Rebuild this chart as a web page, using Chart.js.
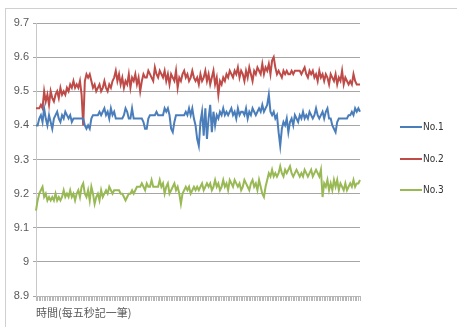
<!DOCTYPE html>
<html>
<head>
<meta charset="utf-8">
<script src="https://cdn.jsdelivr.net/npm/chart.js@4.4.1/dist/chart.umd.min.js"></script>
<style>
  body { margin: 0; background: #fff; }
  #wrap { position: relative; width: 457px; height: 327px; overflow: hidden; }
  #frame { position: absolute; left: 5px; top: 8px; width: 470px; height: 340px;
           border-left: 1px solid #d0d0d0; border-top: 1px solid #d0d0d0; }
  canvas { position: absolute; left: 0; top: 0; }
  .leg { position: absolute; left: 400px; font: 10px "Liberation Sans Narrow", "DejaVu Sans Condensed", "Liberation Sans", sans-serif;
         color: #333; white-space: nowrap; }
  .leg span { display: inline-block; width: 22px; height: 2px; vertical-align: middle; margin-right: 1px; }
</style>
</head>
<body>
<div id="wrap">
  <div id="frame"></div>
  <canvas id="myChart" width="457" height="327"></canvas>
  <div id="legend"></div>
</div>
<script>
// DATA
const seriesNames = ["No.1", "No.2", "No.3"];
const seriesColors = ["#4a7ebb", "#be4b48", "#98b954"];
const yTicks = [8.9, 9.0, 9.1, 9.2, 9.3, 9.4, 9.5, 9.6, 9.7];
const xTitle = "時間(每五秒記一筆)";

const no1 = [
  9.40,9.40,9.42,9.43,9.41,9.45,9.42,9.40,9.43,9.41,9.39,9.42,9.43,9.44,9.42,9.41,9.43,9.42,9.44,9.43,
  9.42,9.43,9.41,9.42,9.42,9.42,9.42,9.42,9.42,9.42,9.40,9.39,9.40,9.39,9.42,9.43,9.43,9.43,9.43,9.44,
  9.43,9.44,9.45,9.43,9.44,9.42,9.45,9.43,9.44,9.42,9.42,9.42,9.42,9.42,9.43,9.45,9.44,9.42,9.42,9.45,
  9.42,9.42,9.42,9.42,9.42,9.42,9.41,9.39,9.39,9.42,9.43,9.43,9.43,9.43,9.44,9.43,9.43,9.43,9.43,9.45,
  9.44,9.45,9.43,9.39,9.38,9.41,9.43,9.43,9.43,9.43,9.43,9.43,9.44,9.43,9.45,9.43,9.45,9.42,9.40,9.36,
  9.34,9.41,9.44,9.37,9.45,9.36,9.42,9.46,9.38,9.44,9.40,9.43,9.42,9.44,9.43,9.45,9.43,9.44,9.43,9.44,
  9.45,9.43,9.44,9.42,9.45,9.43,9.44,9.44,9.43,9.45,9.42,9.44,9.43,9.45,9.44,9.43,9.44,9.45,9.44,9.46,
  9.44,9.45,9.46,9.49,9.44,9.43,9.44,9.42,9.43,9.38,9.34,9.39,9.41,9.40,9.42,9.38,9.41,9.42,9.40,9.43,
  9.42,9.41,9.43,9.42,9.44,9.42,9.43,9.42,9.44,9.43,9.42,9.43,9.45,9.43,9.42,9.43,9.44,9.42,9.44,9.45,
  9.42,9.42,9.40,9.39,9.38,9.41,9.42,9.42,9.42,9.42,9.42,9.42,9.43,9.43,9.44,9.43,9.45,9.44,9.45,9.44
];
const no2 = [
  9.45,9.45,9.45,9.46,9.45,9.50,9.47,9.49,9.46,9.50,9.48,9.47,9.49,9.50,9.48,9.51,9.49,9.50,9.49,9.51,
  9.50,9.52,9.51,9.53,9.51,9.52,9.51,9.53,9.49,9.40,9.53,9.55,9.54,9.55,9.53,9.51,9.52,9.50,9.51,9.52,
  9.50,9.51,9.53,9.51,9.50,9.52,9.51,9.53,9.54,9.56,9.53,9.55,9.52,9.54,9.51,9.53,9.52,9.55,9.51,9.54,
  9.53,9.55,9.52,9.54,9.50,9.53,9.55,9.54,9.54,9.56,9.55,9.54,9.53,9.57,9.55,9.54,9.56,9.55,9.54,9.56,
  9.53,9.55,9.52,9.55,9.54,9.53,9.56,9.51,9.54,9.53,9.55,9.56,9.54,9.55,9.53,9.54,9.56,9.54,9.53,9.54,
  9.52,9.55,9.53,9.54,9.56,9.53,9.55,9.52,9.54,9.56,9.52,9.54,9.49,9.53,9.52,9.54,9.53,9.55,9.54,9.56,
  9.55,9.54,9.56,9.55,9.57,9.54,9.56,9.55,9.53,9.56,9.54,9.57,9.55,9.53,9.56,9.55,9.57,9.56,9.55,9.58,
  9.55,9.57,9.56,9.58,9.55,9.59,9.60,9.57,9.55,9.56,9.55,9.54,9.56,9.55,9.56,9.55,9.55,9.56,9.55,9.56,
  9.56,9.56,9.56,9.55,9.56,9.57,9.55,9.54,9.56,9.55,9.56,9.54,9.55,9.53,9.56,9.54,9.55,9.53,9.55,9.54,
  9.52,9.55,9.54,9.53,9.55,9.52,9.54,9.53,9.56,9.52,9.54,9.53,9.52,9.53,9.52,9.55,9.53,9.52,9.52,9.52
];
const no3 = [
  9.15,9.18,9.20,9.21,9.22,9.19,9.20,9.18,9.19,9.18,9.19,9.18,9.20,9.18,9.19,9.18,9.19,9.21,9.19,9.20,
  9.19,9.21,9.19,9.20,9.18,9.20,9.21,9.19,9.22,9.23,9.20,9.19,9.21,9.18,9.22,9.20,9.17,9.19,9.20,9.18,
  9.21,9.19,9.20,9.21,9.20,9.22,9.21,9.20,9.21,9.21,9.21,9.21,9.20,9.20,9.19,9.18,9.19,9.20,9.20,9.21,
  9.20,9.21,9.22,9.22,9.22,9.23,9.22,9.21,9.23,9.22,9.22,9.24,9.22,9.22,9.22,9.22,9.24,9.22,9.23,9.20,
  9.22,9.23,9.20,9.21,9.22,9.23,9.21,9.22,9.20,9.17,9.20,9.21,9.22,9.21,9.22,9.20,9.21,9.22,9.21,9.22,
  9.21,9.22,9.23,9.21,9.22,9.23,9.22,9.23,9.21,9.22,9.24,9.22,9.23,9.21,9.22,9.24,9.22,9.23,9.21,9.24,
  9.23,9.22,9.24,9.23,9.22,9.23,9.21,9.22,9.24,9.23,9.22,9.21,9.23,9.24,9.22,9.23,9.21,9.24,9.22,9.20,
  9.19,9.22,9.24,9.26,9.25,9.27,9.25,9.26,9.25,9.26,9.28,9.26,9.25,9.27,9.26,9.27,9.28,9.26,9.25,9.26,
  9.27,9.26,9.25,9.26,9.25,9.27,9.26,9.25,9.26,9.27,9.25,9.26,9.27,9.26,9.25,9.27,9.19,9.23,9.22,9.24,
  9.21,9.23,9.21,9.24,9.22,9.24,9.21,9.23,9.22,9.21,9.23,9.21,9.22,9.23,9.22,9.24,9.22,9.23,9.23,9.24
];
const seriesValues = [no1, no2, no3];

// one category per reading (no visible labels)
const labels = no1.map((v, i) => String(i + 1));

const datasets = seriesNames.map((name, i) => ({
  label: name,
  data: seriesValues[i],
  borderColor: seriesColors[i],
  backgroundColor: seriesColors[i],
  borderWidth: 2,
  pointRadius: 0,
  tension: 0,
}));

const ctx = document.getElementById("myChart");
const myChart = new Chart(ctx, {
  type: "line",
  data: { labels: labels, datasets: datasets },
  options: {
    responsive: false,
    animation: false,
    layout: { padding: { left: 5, right: 97, top: 23, bottom: 8 } },
    plugins: { legend: { display: false }, tooltip: { enabled: false } },
    scales: {
      x: {
        grid: { drawOnChartArea: false, drawTicks: true, tickLength: 5, color: "#b8b8b8" },
        border: { color: "#b8b8b8" },
        ticks: { display: false, autoSkip: false },
        title: {
          display: true, text: xTitle, align: "start", color: "#595959",
          font: { family: "'Noto Sans CJK TC', sans-serif", size: 11 },
          padding: { top: 4, bottom: 0 },
        },
        afterFit: (scale) => { scale.height = 23; },
      },
      y: {
        min: yTicks[0],
        max: yTicks[yTicks.length - 1],
        afterBuildTicks: (scale) => { scale.ticks = yTicks.map((v) => ({ value: v })); },
        ticks: {
          color: "#595959",
          padding: 4,
          font: { family: "'Liberation Sans', Arial, sans-serif", size: 11 },
          callback: (v) => String(Math.round(v * 10) / 10),
        },
        grid: { color: "#a6a6a6", tickLength: 3 },
        border: { color: "#c8c8c8" },
        afterFit: (scale) => { scale.width = 31; },
      },
    },
  },
});

// legend
const legendEl = document.getElementById("legend");
const legendTop = [121, 153, 184];
seriesNames.forEach((name, i) => {
  const d = document.createElement("div");
  d.className = "leg";
  d.style.top = legendTop[i] + "px";
  d.innerHTML = '<span style="background:' + seriesColors[i] + '"></span>' + name;
  legendEl.appendChild(d);
});
</script>
</body>
</html>
